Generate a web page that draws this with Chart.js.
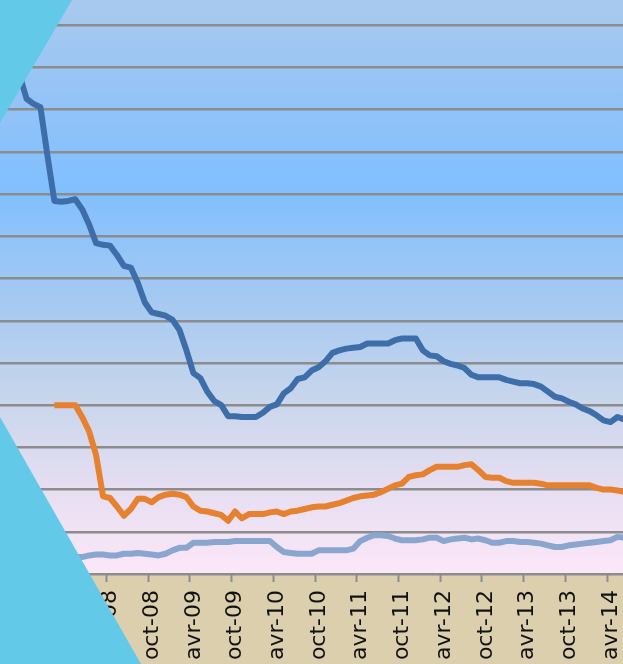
<!DOCTYPE html>
<html>
<head>
<meta charset="utf-8">
<script src="https://cdn.jsdelivr.net/npm/chart.js@4.4.1/dist/chart.umd.min.js"></script>
<style>
  html, body { margin: 0; padding: 0; background: #fff; }
  #wrap { position: relative; width: 623px; height: 664px; overflow: hidden; }
  #chart { position: absolute; left: 0; top: 0; }
  #deco { position: absolute; left: 0; top: 0; pointer-events: none; }
</style>
</head>
<body>
<div id="wrap">
  <canvas id="chart" width="623" height="664"></canvas>
  <svg id="deco" width="623" height="664">
    <polygon points="0,0 72,0 0,123" fill="#63c9e9"/>
    <polygon points="0,417 141,664 0,664" fill="#63c9e9"/>
  </svg>
</div>
<script>
// month labels, janv-07 onwards
const monthNames = ['janv', 'févr', 'mars', 'avr', 'mai', 'juin', 'juil', 'août', 'sept', 'oct', 'nov', 'déc'];
const years = ['07', '08', '09', '10', '11', '12', '13', '14'];
const months = [];
years.forEach(y => monthNames.forEach(m => months.push(m + '-' + y)));

// labelled months on the axis (every 6 months)
const labelMonths = ['avr', 'oct'];

const blueSeries = [
  6.39, 6.15, 5.91, 5.63, 5.57, 5.53, 4.96, 4.42, 4.41, 4.42,
  4.44, 4.32, 4.14, 3.92, 3.90, 3.89, 3.78, 3.65, 3.63, 3.45,
  3.22, 3.10, 3.08, 3.06, 3.01, 2.89, 2.65, 2.38, 2.32, 2.16,
  2.05, 2.00, 1.87, 1.87, 1.86, 1.86, 1.86, 1.91, 1.98, 2.01,
  2.14, 2.20, 2.31, 2.33, 2.41, 2.45, 2.52, 2.62, 2.65, 2.67,
  2.68, 2.69, 2.73, 2.73, 2.73, 2.73, 2.77, 2.79, 2.79, 2.79,
  2.65, 2.59, 2.58, 2.52, 2.49, 2.47, 2.44, 2.36, 2.33, 2.33,
  2.33, 2.33, 2.30, 2.28, 2.26, 2.26, 2.25, 2.22, 2.16, 2.10,
  2.08, 2.04, 2.01, 1.96, 1.93, 1.88, 1.82, 1.80, 1.86, 1.83
];

const orangeSeries = [
  null, null, null, null, null, null, null, 2.00, 2.00, 2.00,
  2.00, 1.86, 1.69, 1.41, 0.92, 0.90, 0.80, 0.69, 0.77, 0.89,
  0.89, 0.85, 0.91, 0.94, 0.95, 0.94, 0.91, 0.80, 0.75, 0.74,
  0.72, 0.70, 0.63, 0.74, 0.66, 0.71, 0.71, 0.71, 0.73, 0.74,
  0.71, 0.74, 0.75, 0.77, 0.79, 0.80, 0.80, 0.82, 0.84, 0.87,
  0.90, 0.92, 0.93, 0.94, 0.97, 1.01, 1.05, 1.07, 1.15, 1.17,
  1.18, 1.23, 1.27, 1.27, 1.27, 1.27, 1.29, 1.30, 1.23, 1.15,
  1.14, 1.14, 1.10, 1.08, 1.08, 1.08, 1.08, 1.07, 1.05, 1.05,
  1.05, 1.05, 1.05, 1.05, 1.05, 1.02, 1.00, 1.00, 0.99, 0.97
];

const lightSeries = [
  0.21, 0.20, 0.20, 0.19, 0.20, 0.21, 0.20, 0.19, 0.20, 0.20,
  0.20, 0.20, 0.22, 0.23, 0.23, 0.22, 0.22, 0.24, 0.24, 0.25,
  0.24, 0.23, 0.22, 0.24, 0.28, 0.31, 0.31, 0.37, 0.37, 0.37,
  0.38, 0.38, 0.38, 0.39, 0.39, 0.39, 0.39, 0.39, 0.39, 0.32,
  0.26, 0.25, 0.24, 0.24, 0.24, 0.28, 0.28, 0.28, 0.28, 0.28,
  0.30, 0.39, 0.43, 0.46, 0.46, 0.45, 0.42, 0.40, 0.40, 0.40,
  0.41, 0.43, 0.43, 0.39, 0.41, 0.42, 0.43, 0.41, 0.42, 0.40,
  0.37, 0.37, 0.39, 0.39, 0.38, 0.38, 0.37, 0.36, 0.34, 0.32,
  0.32, 0.34, 0.35, 0.36, 0.37, 0.38, 0.39, 0.40, 0.44, 0.43
];

const toPoints = arr => arr.map((v, i) => ({ x: i, y: v }));

const bgPlugin = {
  id: 'bg',
  beforeDraw(chart) {
    const { ctx, chartArea: a, width, height } = chart;
    ctx.save();
    ctx.fillStyle = '#dbcfad';
    ctx.fillRect(0, a.bottom, width, height - a.bottom);
    const g = ctx.createLinearGradient(0, a.top, 0, a.bottom);
    g.addColorStop(0, '#a9c9ee');
    g.addColorStop(0.33, '#80bfff');
    g.addColorStop(0.55, '#aacbf0');
    g.addColorStop(0.7, '#c9d6ec');
    g.addColorStop(0.85, '#e6def2');
    g.addColorStop(1, '#fce7f8');
    ctx.fillStyle = g;
    ctx.fillRect(a.left, a.top, a.right - a.left, a.bottom - a.top);
    ctx.restore();
  }
};

const lineStyle = { borderWidth: 6, pointRadius: 0, tension: 0, borderJoinStyle: 'round', fill: false };

new Chart(document.getElementById('chart'), {
  type: 'line',
  data: {
    datasets: [
      { label: 'bleu', data: toPoints(blueSeries), borderColor: '#3e6eaa', ...lineStyle },
      { label: 'orange', data: toPoints(orangeSeries), borderColor: '#e6812f', ...lineStyle },
      { label: 'bleu clair', data: toPoints(lightSeries), borderColor: '#8aa6ce', ...lineStyle }
    ]
  },
  options: {
    responsive: false,
    devicePixelRatio: 1,
    animation: false,
    layout: { padding: 0 },
    plugins: { legend: { display: false }, tooltip: { enabled: false } },
    scales: {
      x: {
        type: 'linear',
        min: -0.82,
        max: 88.8,
        bounds: 'data',
        afterBuildTicks: axis => {
          const t = [];
          months.forEach((m, i) => {
            const v = i - 0.5;
            if (labelMonths.includes(m.split('-')[0]) && v >= axis.min && v <= axis.max) t.push({ value: v });
          });
          axis.ticks = t;
        },
        afterFit: axis => { axis.height = 90; axis.paddingLeft = 0; axis.paddingRight = 0; },
        grid: { drawOnChartArea: false, drawTicks: true, tickLength: 8, tickColor: '#8c8c8c', tickWidth: 2 },
        border: { display: true, color: '#8c8c8c', width: 2 },
        ticks: {
          autoSkip: false,
          maxRotation: 90,
          minRotation: 90,
          labelOffset: 4,
          padding: 8,
          color: '#111',
          font: { family: 'DejaVu Sans', size: 22 },
          callback: v => months[Math.round(v + 0.5)]
        }
      },
      y: {
        type: 'linear',
        min: 0,
        max: 6.8,
        bounds: 'data',
        ticks: { display: false, stepSize: 0.5 },
        afterBuildTicks: axis => {
          axis.ticks = axis.ticks.filter(t => Math.abs(t.value * 2 - Math.round(t.value * 2)) < 1e-6);
        },
        afterFit: axis => { axis.width = 0; },
        grid: { color: '#8c8c8c', lineWidth: 2.5, drawTicks: false },
        border: { display: false }
      }
    }
  },
  plugins: [bgPlugin]
});
</script>
</body>
</html>
